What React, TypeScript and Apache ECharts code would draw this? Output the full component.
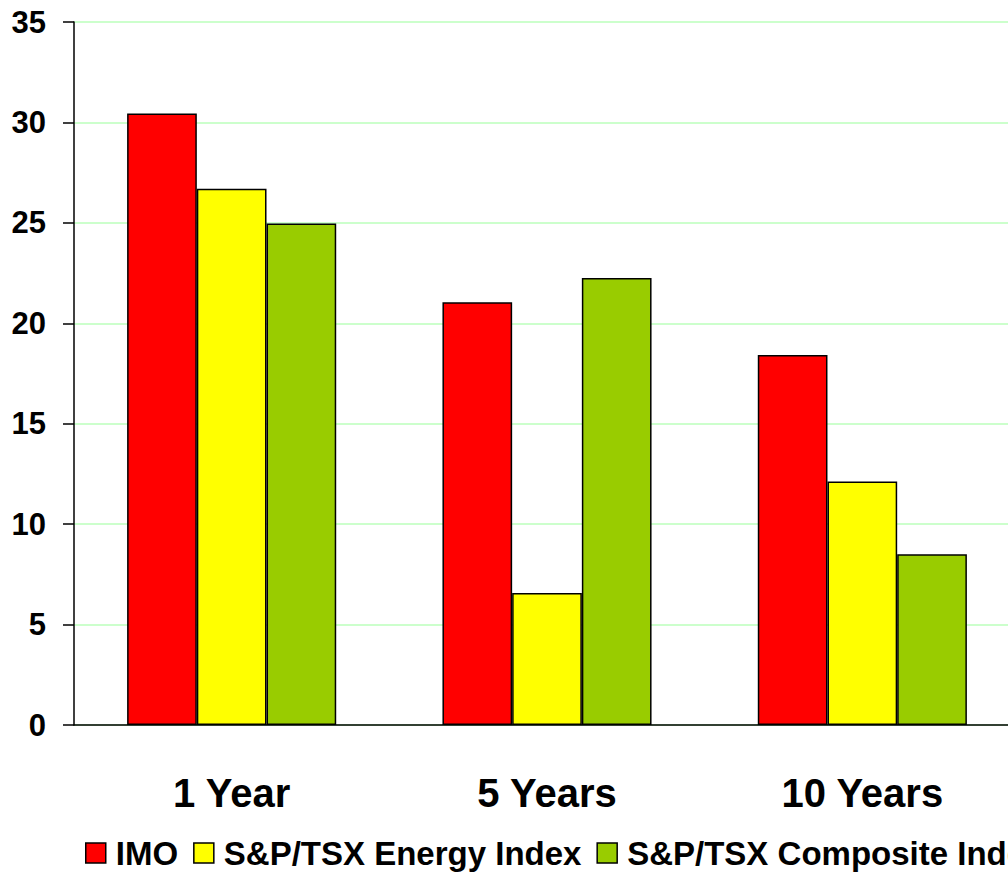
import React, { useEffect, useRef } from "react";
import * as echarts from "echarts";

const categories = ["1 Year", "5 Years", "10 Years"];
const seriesNames = ["IMO", "S&P/TSX Energy Index", "S&P/TSX Composite Index"];
const imoValues = [30.45, 21.05, 18.42];
const energyValues = [26.7, 6.57, 12.12];
const compositeValues = [24.97, 22.25, 8.5];
const seriesColors = ["#ff0000", "#ffff00", "#99cc00"];
const yTicks = { min: 0, max: 35, interval: 5 };

const FONT = "'Liberation Sans', Arial, sans-serif";

export default function App() {
  const ref = useRef<HTMLDivElement>(null);
  useEffect(() => {
    if (!ref.current) return;
    const chart = echarts.init(ref.current, undefined, { renderer: "svg" });
    const data = [imoValues, energyValues, compositeValues];
    chart.setOption({
      animation: false,
      backgroundColor: "#ffffff",
      grid: { left: 74, top: 22, width: 946, height: 703, containLabel: false },
      legend: {
        left: 85,
        top: 835,
        width: 1500,
        padding: 0,
        itemWidth: 20,
        itemHeight: 20,
        itemGap: 15,
        icon: "rect",
        itemStyle: { borderColor: "#000", borderWidth: 1.5 },
        textStyle: {
          fontFamily: FONT,
          fontWeight: "bold",
          fontSize: 33,
          color: "#000",
          lineHeight: 36,
          padding: [0, 0, 0, 5],
        },
        data: seriesNames,
      },
      xAxis: {
        type: "category",
        data: categories,
        axisLine: { lineStyle: { color: "#000", width: 1.5 } },
        axisTick: { show: false },
        axisLabel: {
          fontFamily: FONT,
          fontWeight: "bold",
          fontSize: 40,
          color: "#000",
          margin: 48,
        },
        splitLine: { show: false },
      },
      yAxis: {
        type: "value",
        min: yTicks.min,
        max: yTicks.max,
        interval: yTicks.interval,
        axisLine: { show: true, lineStyle: { color: "#000", width: 1.5 } },
        axisTick: { show: true, length: 11, lineStyle: { color: "#000", width: 1.5 } },
        axisLabel: {
          fontFamily: FONT,
          fontWeight: "bold",
          fontSize: 31,
          color: "#000",
          margin: 28,
        },
        splitLine: { show: true, lineStyle: { color: "#ccffcc", width: 2 } },
      },
      series: seriesNames.map((name, i) => ({
        name,
        type: "bar",
        data: data[i],
        barWidth: 69.7,
        barGap: "0%",
        itemStyle: { color: seriesColors[i], borderColor: "#000", borderWidth: 1.5 },
      })),
    });
    return () => chart.dispose();
  }, []);
  return (
    <div
      style={{
        position: "fixed",
        left: 0,
        top: 0,
        width: 1008,
        height: 872,
        overflow: "hidden",
        background: "#fff",
      }}
    >
      <div ref={ref} style={{ width: 1100, height: 872 }} />
    </div>
  );
}
